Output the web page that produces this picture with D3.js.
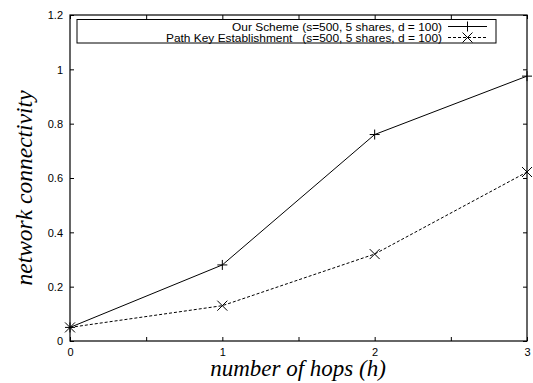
<!DOCTYPE html>
<html>
<head>
<meta charset="utf-8">
<script src="https://cdn.jsdelivr.net/npm/d3@7"></script>
<style>
  html, body { margin: 0; padding: 0; background: #fff; }
  svg { display: block; }
</style>
</head>
<body>
<svg id="chart" width="533" height="383"></svg>
<script>
// hop counts and connectivity for each scheme
const hops = [0, 1, 2, 3];
const ourScheme = [0.05, 0.28, 0.76, 0.975];
const pathKey = [0.05, 0.13, 0.32, 0.622];
const seriesNames = [
  "Our Scheme (s=500, 5 shares, d = 100)",
  "Path Key Establishment   (s=500, 5 shares, d = 100)"
];
const xTickLabels = [0, 1, 2, 3];
const yTickLabels = [0, 0.2, 0.4, 0.6, 0.8, 1, 1.2];

const svg = d3.select("#chart");
const m = { left: 70, right: 527, top: 15, bottom: 341 };

const x = d3.scaleLinear().domain([0, 3]).range([m.left, m.right]);
const y = d3.scaleLinear().domain([0, 1.2]).range([m.bottom, m.top]);

const tickFont = "Liberation Sans, Arial, sans-serif";
const titleFont = "Liberation Serif, Times New Roman, serif";

// frame
svg.append("rect")
  .attr("x", m.left).attr("y", m.top)
  .attr("width", m.right - m.left).attr("height", m.bottom - m.top)
  .attr("fill", "none").attr("stroke", "#000").attr("stroke-width", 1.2);

// bottom axis: ticks every 0.5, labels on integers
const xMinor = d3.range(0, 3.01, 0.5);
const bottomAxis = d3.axisBottom(x).tickValues(xMinor).tickSizeInner(-4).tickSizeOuter(0)
  .tickFormat(d => xTickLabels.includes(d) ? String(d) : "");
const gx = svg.append("g").attr("transform", `translate(0,${m.bottom})`).call(bottomAxis);
gx.select(".domain").remove();
gx.selectAll("text").attr("dy", "0").attr("y", 14.5)
  .style("font-family", tickFont).style("font-size", "11px").attr("fill", "#000");
gx.selectAll("line").attr("stroke", "#000");

const topAxis = d3.axisTop(x).tickValues(xMinor).tickSizeInner(-4).tickSizeOuter(0).tickFormat("");
const gxt = svg.append("g").attr("transform", `translate(0,${m.top})`).call(topAxis);
gxt.select(".domain").remove();
gxt.selectAll("line").attr("stroke", "#000");

// left / right axes
const leftAxis = d3.axisLeft(y).tickValues(yTickLabels).tickSizeInner(-4).tickSizeOuter(0)
  .tickFormat(d => String(d));
const gy = svg.append("g").attr("transform", `translate(${m.left},0)`).call(leftAxis);
gy.select(".domain").remove();
gy.selectAll("text").attr("x", -7).attr("dy", "0.35em")
  .style("font-family", tickFont).style("font-size", "11px").attr("fill", "#000");
gy.selectAll("line").attr("stroke", "#000");

const rightAxis = d3.axisRight(y).tickValues(yTickLabels).tickSizeInner(-4).tickSizeOuter(0).tickFormat("");
const gyr = svg.append("g").attr("transform", `translate(${m.right},0)`).call(rightAxis);
gyr.select(".domain").remove();
gyr.selectAll("line").attr("stroke", "#000");

// axis titles
svg.append("text")
  .attr("x", 298).attr("y", 376)
  .attr("text-anchor", "middle")
  .style("font-family", titleFont)
  .style("font-style", "italic").style("font-size", "23px")
  .text("number of hops (h)");

svg.append("text")
  .attr("transform", `translate(32,188) rotate(-90)`)
  .attr("text-anchor", "middle")
  .style("font-family", titleFont)
  .style("font-style", "italic").style("font-size", "23.5px")
  .text("network connectivity");

// series lines
const line = d3.line().x((d, i) => x(hops[i])).y(d => y(d));
svg.append("path").datum(ourScheme).attr("d", line)
  .attr("fill", "none").attr("stroke", "#000").attr("stroke-width", 1);
svg.append("path").datum(pathKey).attr("d", line)
  .attr("fill", "none").attr("stroke", "#000").attr("stroke-width", 1)
  .attr("stroke-dasharray", "3,2");

// markers
function plus(g, cx, cy, r) {
  g.append("path").attr("d", `M${cx - r},${cy}H${cx + r}M${cx},${cy - r}V${cy + r}`)
    .attr("stroke", "#000").attr("stroke-width", 1).attr("fill", "none");
}
function cross(g, cx, cy, r) {
  g.append("path").attr("d", `M${cx - r},${cy - r}L${cx + r},${cy + r}M${cx - r},${cy + r}L${cx + r},${cy - r}`)
    .attr("stroke", "#000").attr("stroke-width", 1).attr("fill", "none");
}
const marks = svg.append("g");
ourScheme.forEach((v, i) => plus(marks, x(hops[i]), y(v), 5));
pathKey.forEach((v, i) => cross(marks, x(hops[i]), y(v), 5));

// legend
const lg = svg.append("g");
lg.append("rect").attr("x", 77).attr("y", 19.5).attr("width", 419).attr("height", 23.5)
  .attr("fill", "#fff").attr("stroke", "#000").attr("stroke-width", 1);
const rowY = [30.5, 41.5];
const rowWidth = [210, 276];
seriesNames.forEach((name, i) => {
  lg.append("text").attr("x", 442).attr("y", rowY[i])
    .attr("text-anchor", "end")
    .attr("textLength", rowWidth[i]).attr("lengthAdjust", "spacingAndGlyphs")
    .style("font-family", tickFont).style("font-size", "11.5px")
    .style("white-space", "pre").attr("xml:space", "preserve")
    .text(name);
  const ly = rowY[i] - 4;
  const seg = lg.append("line").attr("x1", 448).attr("x2", 487).attr("y1", ly).attr("y2", ly)
    .attr("stroke", "#000").attr("stroke-width", 1);
  if (i === 1) seg.attr("stroke-dasharray", "3,2");
  if (i === 0) plus(lg, 467.5, ly, 5); else cross(lg, 467.5, ly, 5);
});
</script>
</body>
</html>
